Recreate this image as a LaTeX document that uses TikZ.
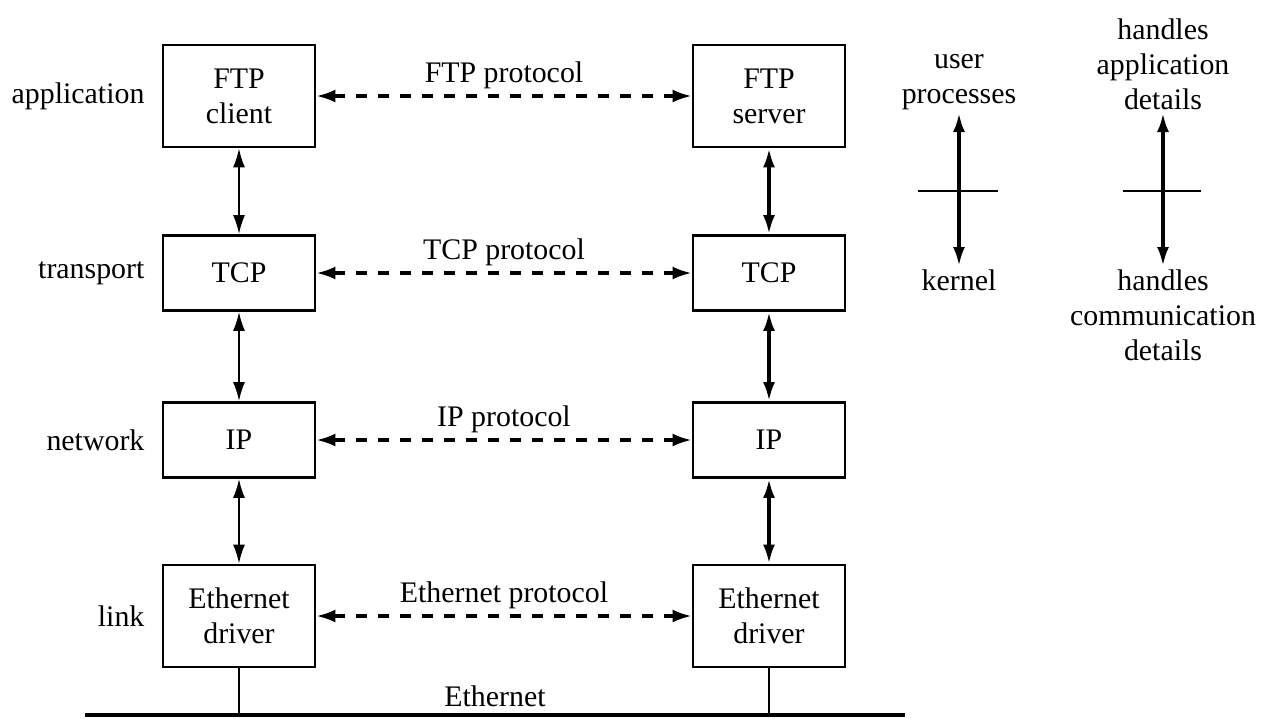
\documentclass[tikz,border=0pt]{standalone}
\usepackage{fontspec}
\setmainfont{Liberation Serif}
\usetikzlibrary{arrows.meta}
\usetikzlibrary{positioning}

\tikzset{
  stack/.style={draw, line width=1.6pt, minimum width=3.04cm, inner sep=0pt, align=center},
  tall/.style={stack, minimum height=2.04cm},
  flat/.style={stack, minimum height=1.5cm},
  peer/.style={dash pattern=on 0.22cm off 0.22cm, line width=1.8pt,
    {Latex[length=0.38cm,width=0.26cm]}-{Latex[length=0.38cm,width=0.26cm]}},
  updown/.style={line width=1.1pt,
    {Latex[length=0.38cm,width=0.24cm]}-{Latex[length=0.38cm,width=0.24cm]}},
  updownthick/.style={updown, line width=2pt},
  layer/.style={left=0.22cm of #1},
  note/.style={align=center, inner sep=0.06cm},
}

\begin{document}
\begin{tikzpicture}[x=0.02cm, y=-0.02cm, font=\fontsize{17}{20}\selectfont]

\useasboundingbox (0,0) rectangle (1269,718);

% client side
\node[tall] (ftpc) at (239,96) {FTP\\client};
\node[flat] (tcpc) at (239,273) {TCP};
\node[flat] (ipc) at (239,440) {IP};
\node[tall] (ethc) at (239,616) {Ethernet\\driver};

% server side
\node[tall] (ftps) at (769,96) {FTP\\server};
\node[flat] (tcps) at (769,273) {TCP};
\node[flat] (ips) at (769,440) {IP};
\node[tall] (eths) at (769,616) {Ethernet\\driver};

% layer names
\node[layer=ftpc] (lapp) {application};
\node[layer=tcpc] (ltra) {transport};
\node[layer=ipc] (lnet) {network};
\node[layer=ethc] (llnk) {link};

% peer protocols
\draw[peer] (ftpc) -- node[above] (pftp) {FTP protocol} (ftps);
\draw[peer] (tcpc) -- node[above] (ptcp) {TCP protocol} (tcps);
\draw[peer] (ipc) -- node[above] (pip) {IP protocol} (ips);
\draw[peer] (ethc) -- node[above] (peth) {Ethernet protocol} (eths);

\foreach \a/\b in {ftpc/tcpc, tcpc/ipc, ipc/ethc}
  \draw[updown] (\a) -- (\b);
\foreach \a/\b in {ftps/tcps, tcps/ips, ips/eths}
  \draw[updownthick] (\a) -- (\b);

% the wire
\coordinate (busl) at (85,715);
\coordinate (busr) at (905,715);
\draw[line width=2.5pt] (busl) -- node[above] (wire) {Ethernet} (busr);
\draw[line width=1.1pt] (ethc) -- (ethc |- busl);
\draw[line width=1.1pt] (eths) -- (eths |- busl);

% user / kernel split
\node[note, anchor=south] (usr) at (959,113) {user\\processes};
\node[note, anchor=north] (krn) at (959,266) {kernel};
\draw[updownthick] (usr) -- (krn);
\draw[line width=0.9pt] (918,191) -- (998,191);

\node[note, anchor=south] (apd) at (1163,113) {handles\\application\\details};
\node[note, anchor=north] (cmd) at (1163,266) {handles\\communication\\details};
\draw[updownthick] (apd) -- (cmd);
\draw[line width=0.9pt] (1123,191) -- (1201,191);

\end{tikzpicture}
\end{document}
